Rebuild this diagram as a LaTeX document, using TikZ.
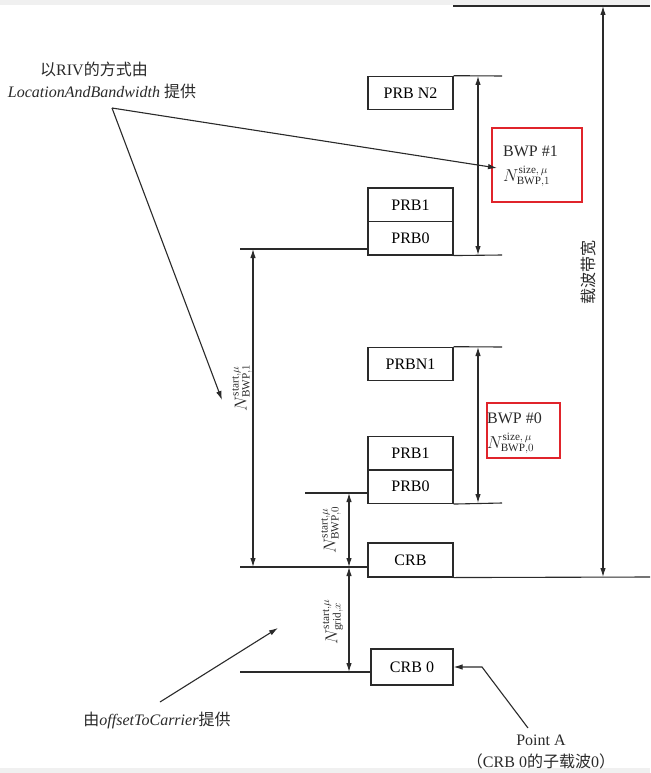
\documentclass[tikz,border=0pt]{standalone}
\usepackage{fontspec}
\setmainfont{Liberation Serif}
\newfontfamily\cjk{Noto Sans CJK SC}
\usetikzlibrary{arrows.meta}
\definecolor{ink}{HTML}{2A2A2A}
\definecolor{bwpred}{HTML}{E0242B}
\definecolor{bar}{HTML}{F0F0F0}
\tikzset{
  ln/.style={draw=ink, line width=1.1pt},
  arr/.style={ln, -{Latex[length=9pt,width=5.5pt]}},
  darr/.style={ln, {Latex[length=9pt,width=5.5pt]}-{Latex[length=9pt,width=5.5pt]}},
  blk/.style={draw=ink, line width=1.1pt, minimum width=85pt, minimum height=33.5pt, inner sep=0pt},
  redbox/.style={draw=bwpred, line width=2pt, inner sep=0pt},
  txt/.style={inner sep=0pt, text=ink},
}
\begin{document}
\begin{tikzpicture}[x=1pt,y=-1pt, font=\fontsize{16}{19}\selectfont]
\useasboundingbox (0,0) rectangle (650,773);
\fill[white] (0,0) rectangle (650,773);
\fill[bar] (0,0) rectangle (650,5);
\fill[bar] (0,768) rectangle (650,773);

% blocks
\node[blk] (prbn2) at (410.5,93) {PRB N2};
\node[blk] (prb1a) at (410.5,204.75) {PRB1};
\node[blk] (prb0a) at (410.5,238.25) {PRB0};
\node[blk] (prbn1) at (410.5,364) {PRBN1};
\node[blk] (prb1b) at (410.5,453.25) {PRB1};
\node[blk] (prb0b) at (410.5,486.75) {PRB0};
\node[blk, minimum height=34pt] (crb) at (410.5,560) {CRB};
\node[blk, minimum width=82pt, minimum height=36pt] (crb0) at (412,667) {CRB 0};

% BWP boxes
\node[redbox, minimum width=90pt, minimum height=74pt] (bwp1) at (537,165) {};
\node[txt, anchor=west] (bwp1a) at (503,151) {BWP \#1};
\node[txt, anchor=west] (bwp1b) at (503,176) {$N^{\mathrm{size},\,\mu}_{\mathrm{BWP},1}$};
\node[redbox, minimum width=73pt, minimum height=55pt] (bwp0) at (523.5,430.5) {};
\node[txt, anchor=west] (bwp0a) at (487,418) {BWP \#0};
\node[txt, anchor=west] (bwp0b) at (487,443) {$N^{\mathrm{size},\,\mu}_{\mathrm{BWP},0}$};

% reference coordinates
\coordinate (topL) at (453,6);
\coordinate (topR) at (650,6);
\coordinate (botR) at (650,577);
\coordinate (r1t) at (502,76);
\coordinate (r1b) at (502,255);
\coordinate (r0t) at (502,347);
\coordinate (r0b) at (502,503);
\coordinate (l1) at (240,249);
\coordinate (l0) at (305,493);
\coordinate (lc) at (240,567);
\coordinate (lg) at (240,672);

% horizontal lines
\draw[ln] (topL) -- (topR);
\draw[ln] (crb.south east) -- (botR);
\draw[ln] (prbn2.north east) -- (r1t);
\draw[ln] (prb0a.south east) -- (r1b);
\draw[ln] (prbn1.north east) -- (r0t);
\draw[ln] (prb0b.south east) -- (r0b);
\draw[ln] (l1) -- (l1 -| prb0a.west);
\draw[ln] (l0) -- (l0 -| prb0b.west);
\draw[ln] (lc) -- (lc -| crb.west);
\draw[ln] (lg) -- (lg -| crb0.west);

% dimension arrows
\draw[darr] (603,6) -- (603,577);
\draw[darr] (478,76) -- (478,255);
\draw[darr] (478,347) -- (478,503);
\draw[darr] (253,249) -- (253,567);
\draw[darr] (349,493) -- (349,567);
\draw[darr] (349,567) -- (349,672);

% rotated labels
\node[txt, rotate=90] (carrier) at (588,272) {\cjk 载波带宽};
\node[txt, rotate=90] (nb1) at (242,388) {$N^{\mathrm{start},\mu}_{\mathrm{BWP},1}$};
\node[txt, rotate=90] (nb0) at (331,530) {$N^{\mathrm{start},\mu}_{\mathrm{BWP},0}$};
\node[txt, rotate=90] (ng) at (333,622) {$N^{\mathrm{start},\mu}_{\mathrm{grid},x}$};

% annotations
\node[txt] (riv1) at (94,69) {{\cjk 以}RIV{\cjk 的方式由}};
\node[txt] (riv2) at (102,91) {\textit{LocationAndBandwidth} {\cjk 提供}};
\coordinate (v) at (112,108);
\coordinate (vt1) at (497,168);
\coordinate (vt2) at (222,400);
\draw[arr] (v) -- (vt1);
\draw[arr] (v) -- (vt2);

\node[txt] (off) at (157,720) {{\cjk 由}\textit{offsetToCarrier}{\cjk 提供}};
\coordinate (os) at (160,702);
\coordinate (oe) at (278,628);
\draw[arr] (os) -- (oe);

\node[txt] (pa) at (541,740) {Point A};
\node[txt] (pa2) at (541,761) {{\cjk （}CRB 0{\cjk 的子载波}0{\cjk ）}};
\coordinate (pas) at (528,728);
\coordinate (pac) at (482,667);
\draw[arr] (pas) -- (pac) -- (crb0.east);
\end{tikzpicture}
\end{document}
